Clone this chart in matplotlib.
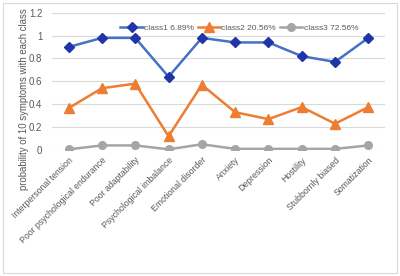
import numpy as np
import matplotlib
matplotlib.use("Agg")
import matplotlib.pyplot as plt
from matplotlib.patches import Rectangle

categories = ["Interpersonal tension", "Poor psychological endurance", "Poor adaptability",
              "Psychological imbalance", "Emotional disorder", "Anxiety", "Depression",
              "Hostility", "Stubbornly biased", "Somatization"]
class1 = [0.90, 0.98, 0.98, 0.64, 0.98, 0.94, 0.94, 0.82, 0.77, 0.98]
class2 = [0.366, 0.54, 0.58, 0.12, 0.57, 0.33, 0.27, 0.375, 0.23, 0.375]
class3 = [0.006, 0.04, 0.04, 0.006, 0.05, 0.01, 0.01, 0.01, 0.01, 0.04]
labels = ["class1 6.89%", "class2 20.56%", "class3 72.56%"]

plt.rcParams["font.family"] = ["Liberation Sans", "DejaVu Sans"]
txt = "#595959"
fig = plt.figure(figsize=(4.0, 2.76), dpi=100)
fig.patches.append(Rectangle((0.008, 0.01), 0.984, 0.98, transform=fig.transFigure,
                             fill=False, edgecolor="#d9d9d9", linewidth=0.8))
ax = fig.add_axes([0.13, 0.4565, 0.8325, 0.4975])
x = np.arange(len(categories))

ax.plot(x, class1, color="#4472C4", lw=1.8, marker="D", ms=5,
        mfc="#2036A8", mec="#2036A8", label=labels[0], zorder=3)
ax.plot(x, class2, color="#ED7D31", lw=1.8, marker="^", ms=7.5,
        mfc="#ED7D31", mec="#ED7D31", label=labels[1], zorder=3)
ax.plot(x, class3, color="#A5A5A5", lw=1.8, marker="o", ms=5.5,
        mfc="#A5A5A5", mec="#A5A5A5", label=labels[2], zorder=3)

ax.set_xlim(-0.5, len(categories) - 0.5)
ax.set_ylim(0, 1.2)
ax.set_yticks([0, 0.2, 0.4, 0.6, 0.8, 1.0, 1.2])
ax.set_yticklabels(["0", "0.2", "0.4", "0.6", "0.8", "1", "1.2"])
ax.grid(axis="y", color="#d9d9d9", lw=0.8)
ax.set_axisbelow(True)
for s in ax.spines.values():
    s.set_visible(False)
ax.tick_params(axis="y", length=0, labelsize=7, colors=txt, pad=7)
ax.tick_params(axis="x", length=0, labelsize=6.3, colors=txt, pad=4)
ax.set_xticks(x)
ax.set_xticklabels(categories, rotation=45, ha="right", rotation_mode="anchor")
fig.text(0.06, 0.64, "probability of 10 symptoms with each class", rotation=90,
         ha="center", va="center", fontsize=6.9, color=txt)

ax.legend(loc="upper left", bbox_to_anchor=(0.205, 0.92), ncol=3, frameon=False,
          fontsize=6, labelcolor=txt, handlelength=2.7, handletextpad=0.15,
          columnspacing=0.45, borderaxespad=0.0, borderpad=0.0)

fig.savefig("out.png", dpi=100)
